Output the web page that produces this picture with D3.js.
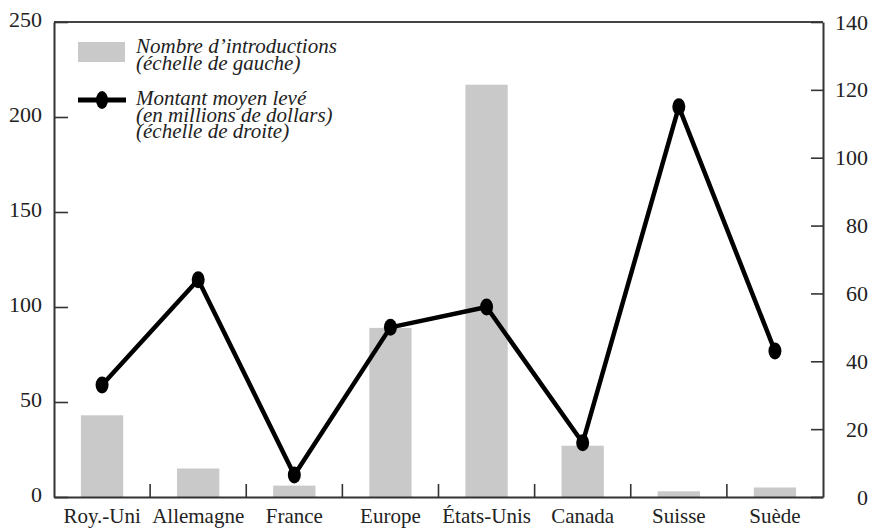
<!DOCTYPE html>
<html>
<head>
<meta charset="utf-8">
<script src="https://cdn.jsdelivr.net/npm/d3@7"></script>
<style>
  body { margin: 0; background: #fff; }
  svg { display: block; }
  text { font-family: "Liberation Serif", serif; fill: #222; }
</style>
</head>
<body>
<svg id="chart" width="878" height="530"></svg>
<script>
// ---- Data ----
const categories = ["Roy.-Uni", "Allemagne", "France", "Europe", "États-Unis", "Canada", "Suisse", "Suède"];
const introductions = [43, 15, 6, 89, 217, 27, 3, 5];          // left scale
const montantMoyen = [33, 64, 6.5, 50, 56, 16, 115, 43];        // right scale (millions $)
const leftTicks = [0, 50, 100, 150, 200, 250];
const rightTicks = [0, 20, 40, 60, 80, 100, 120, 140];
const legendBarLabel = ["Nombre d\u2019introductions", "(échelle de gauche)"];
const legendLineLabel = ["Montant moyen levé", "(en millions de dollars)", "(échelle de droite)"];

// ---- Layout ----
const FONT = "Liberation Serif, serif";
const svg = d3.select("#chart");
const L = 54, R = 823, T = 22, B = 497;
const axisColor = "#333";
const barColor = "#c9c9c9";

const x = d3.scaleBand().domain(categories).range([L, R]).padding(0);
const yL = d3.scaleLinear().domain([0, 250]).range([B, T]);
const yR = d3.scaleLinear().domain([0, 140]).range([B, T]);
const barW = x.bandwidth() * 0.44;

// Bars
svg.append("g").selectAll("rect").data(categories).join("rect")
  .attr("x", d => x(d) + x.bandwidth() / 2 - barW / 2)
  .attr("width", barW)
  .attr("y", (d, i) => yL(introductions[i]))
  .attr("height", (d, i) => yL(0) - yL(introductions[i]))
  .attr("fill", barColor);

// Top frame line
svg.append("line").attr("x1", L).attr("x2", R).attr("y1", T).attr("y2", T)
  .attr("stroke", "#444").attr("stroke-width", 2);

// Left axis
const gL = svg.append("g").attr("transform", `translate(${L},0)`)
  .call(d3.axisLeft(yL).tickValues(leftTicks).tickSize(-14).tickSizeOuter(0).tickPadding(12));
// Right axis
const gR = svg.append("g").attr("transform", `translate(${R},0)`)
  .call(d3.axisRight(yR).tickValues(rightTicks).tickSize(-12).tickSizeOuter(0).tickPadding(12));
// Bottom axis (labels only)
const gB = svg.append("g").attr("transform", `translate(0,${B})`)
  .call(d3.axisBottom(x).tickSize(0).tickSizeOuter(0).tickPadding(11));

[gL, gR, gB].forEach(g => {
  g.attr("font-family", FONT);
  g.select(".domain").attr("stroke", axisColor).attr("stroke-width", 2);
  g.selectAll(".tick line").attr("stroke", axisColor).attr("stroke-width", 1.6);
  g.selectAll(".tick text").attr("fill", "#222").attr("font-family", FONT);
});
gL.selectAll(".tick text").attr("font-size", 22).attr("dy", "0.2em");
gR.selectAll(".tick text").attr("font-size", 22).attr("text-anchor", "end").attr("x", 45);
gB.selectAll(".tick text").attr("font-size", 21);

// Category separator ticks (band boundaries)
svg.append("g").selectAll("line").data(categories.slice(1)).join("line")
  .attr("x1", d => x(d)).attr("x2", d => x(d))
  .attr("y1", B).attr("y2", B - 13)
  .attr("stroke", axisColor).attr("stroke-width", 1.6);

// Line series
const cx = (d, i) => x(categories[i]) + x.bandwidth() / 2;
const line = d3.line().x((d, i) => cx(d, i)).y(d => yR(d));
svg.append("path").datum(montantMoyen)
  .attr("d", line).attr("fill", "none").attr("stroke", "#000")
  .attr("stroke-width", 4.5).attr("stroke-linejoin", "round");
svg.append("g").selectAll("ellipse").data(montantMoyen).join("ellipse")
  .attr("cx", cx).attr("cy", d => yR(d))
  .attr("rx", 6.5).attr("ry", 8.5).attr("fill", "#000");

// Legend
const lg = svg.append("g");
lg.append("rect").attr("x", 78).attr("y", 42).attr("width", 47).attr("height", 20).attr("fill", barColor);
lg.append("line").attr("x1", 78).attr("x2", 126).attr("y1", 100).attr("y2", 100)
  .attr("stroke", "#000").attr("stroke-width", 5);
lg.append("ellipse").attr("cx", 102).attr("cy", 100).attr("rx", 6).attr("ry", 9).attr("fill", "#000");
const legText = (lines, y0) => {
  lg.append("g").selectAll("text").data(lines).join("text")
    .attr("x", 136).attr("y", (d, i) => y0 + i * 16.5)
    .attr("font-family", FONT)
    .attr("font-size", 21).attr("font-style", "italic")
    .text(d => d);
};
legText(legendBarLabel, 53);
legText(legendLineLabel, 105);
</script>
</body>
</html>
